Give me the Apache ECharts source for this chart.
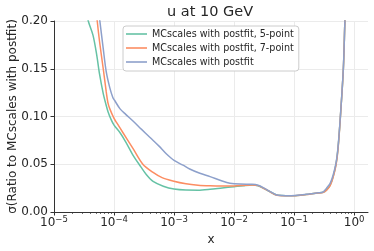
<!DOCTYPE html>
<html><head><meta charset="utf-8">
<script src="https://cdn.jsdelivr.net/npm/echarts@6/dist/echarts.min.js"></script>
<style>html,body{margin:0;padding:0;background:#fff}#c{width:374px;height:251px}</style>
</head><body><div id="c"></div>
<script>
const seriesNames = ['MCscales with postfit, 5-point', 'MCscales with postfit, 7-point', 'MCscales with postfit'];
const seriesColors = ['#66c2a5', '#fc8d62', '#8da0cb'];
const majorTicks = [1e-5, 1e-4, 1e-3, 1e-2, 1e-1, 1];
const yTicks = [0, 0.05, 0.10, 0.15, 0.20];

const xGreen = [3.31e-5, 3.72e-5, 4.47e-5, 5.13e-5, 5.75e-5, 6.61e-5, 7.24e-5, 7.94e-5, 8.91e-5, 1.0e-4, 1.26e-4, 1.58e-4, 2.09e-4, 2.82e-4, 3.47e-4, 4.47e-4, 6.61e-4, 1e-3, 1.58e-3, 2.51e-3, 3.98e-3, 6.31e-3, 1e-2, 1.41e-2, 2.0e-2];
const yGreen = [0.215, 0.200, 0.185, 0.165, 0.144, 0.124, 0.114, 0.105, 0.097, 0.091, 0.083, 0.073, 0.059, 0.047, 0.039, 0.032, 0.027, 0.0240, 0.0230, 0.0229, 0.0238, 0.0252, 0.0265, 0.0275, 0.0283];

const xOrange = [5.01e-5, 5.25e-5, 5.75e-5, 6.61e-5, 7.41e-5, 7.94e-5, 8.51e-5, 1.0e-4, 1.12e-4, 1.41e-4, 2.09e-4, 3.02e-4, 4.47e-4, 6.31e-4, 9.55e-4, 1.58e-3, 2.51e-3, 3.98e-3, 6.31e-3, 1e-2, 1.41e-2, 2.0e-2];
const yOrange = [0.215, 0.200, 0.178, 0.150, 0.126, 0.114, 0.108, 0.098, 0.093, 0.083, 0.066, 0.050, 0.0415, 0.036, 0.0325, 0.0295, 0.0280, 0.0274, 0.0272, 0.0273, 0.0278, 0.0283];

const xBlue = [5.50e-5, 5.78e-5, 6.61e-5, 7.41e-5, 8.51e-5, 9.55e-5, 1.02e-4, 1.26e-4, 1.58e-4, 2.09e-4, 2.82e-4, 3.98e-4, 5.62e-4, 7.41e-4, 1e-3, 1.41e-3, 1.82e-3, 2.69e-3, 3.98e-3, 6.31e-3, 8.51e-3, 1.26e-2, 2.0e-2];
const yBlue = [0.212, 0.201, 0.171, 0.147, 0.130, 0.120, 0.117, 0.108, 0.102, 0.095, 0.087, 0.078, 0.069, 0.061, 0.054, 0.049, 0.045, 0.0405, 0.037, 0.0325, 0.0302, 0.0292, 0.0290];

const xTail = [2.51e-2, 3.16e-2, 3.98e-2, 5.01e-2, 6.31e-2, 8.91e-2, 0.126, 0.178, 0.251, 0.302, 0.347, 0.398, 0.447, 0.501, 0.537, 0.589, 0.661, 0.700, 0.724];
const yGreenTail = [0.0275, 0.0245, 0.0212, 0.0180, 0.0172, 0.0170, 0.0176, 0.0188, 0.0200, 0.0206, 0.0232, 0.0280, 0.0370, 0.051, 0.066, 0.099, 0.150, 0.199, 0.225];
const yOrangeTail = [0.0276, 0.0246, 0.0211, 0.0178, 0.0170, 0.0169, 0.0175, 0.0187, 0.0199, 0.0204, 0.0228, 0.0275, 0.0365, 0.050, 0.065, 0.099, 0.150, 0.199, 0.225];
const yBlueTail = [0.0280, 0.0250, 0.0214, 0.0181, 0.0173, 0.0171, 0.0177, 0.0189, 0.0201, 0.0208, 0.0250, 0.0300, 0.0387, 0.052, 0.067, 0.100, 0.151, 0.199, 0.225];

function pairs(xs, ys) { return xs.map((x, i) => [x, ys[i]]); }
const dataSets = [
  pairs(xGreen.concat(xTail), yGreen.concat(yGreenTail)),
  pairs(xOrange.concat(xTail), yOrange.concat(yOrangeTail)),
  pairs(xBlue.concat(xTail), yBlue.concat(yBlueTail))
];

const minorTicks = [];
for (let k = -5; k <= 0; k++) for (let m = 2; m <= 9; m++) { const v = m * Math.pow(10, k); if (v < 1.7) minorTicks.push(v); }

const FONT = 'DejaVu Sans';
const TXT = '#262626';
const AX = '#333333';
const GRIDC = '#ebebeb';

function expLabel(v) {
  const e = Math.log10(v);
  const r = Math.round(e);
  if (Math.abs(e - r) > 0.01) return '';
  return '{b|10}{s|' + (r < 0 ? '\u2212' + (-r) : r) + '}';
}

const chart = echarts.init(document.getElementById('c'), null, {renderer: 'canvas'});
chart.setOption({
  animation: false,
  backgroundColor: '#ffffff',
  textStyle: {fontFamily: FONT},
  title: {
    text: 'u at 10 GeV', left: 167, top: 5, padding: 0,
    textStyle: {fontFamily: FONT, fontSize: 14.5, fontWeight: 'normal', color: TXT}
  },
  legend: {
    data: seriesNames, orient: 'vertical', left: 123, top: 26,
    padding: [2, 5, 3, 3], itemGap: 2, itemWidth: 21, itemHeight: 1.6, icon: 'rect',
    backgroundColor: '#ffffff', borderColor: '#cccccc', borderWidth: 1, borderRadius: 3,
    textStyle: {fontFamily: FONT, fontSize: 9.6, color: TXT, lineHeight: 12}
  },
  grid: {left: 54, right: 6, top: 21, bottom: 39, containLabel: false, outerBoundsMode: 'none'},
  xAxis: [{
    type: 'log', logBase: 10, min: 1e-5, max: 1.7,
    name: 'x', nameLocation: 'middle', nameGap: 22, nameMoveOverlap: false,
    nameTextStyle: {fontFamily: FONT, fontSize: 12, color: TXT},
    axisLine: {show: true, lineStyle: {color: AX, width: 1}},
    axisTick: {show: true, inside: false, length: 3.5, lineStyle: {color: AX}, customValues: majorTicks},
    axisLabel: {
      margin: 3, color: TXT, customValues: majorTicks,
      formatter: expLabel,
      rich: {
        b: {fontFamily: FONT, fontSize: 12, color: TXT, lineHeight: 14, verticalAlign: 'bottom'},
        s: {fontFamily: FONT, fontSize: 8.5, color: TXT, lineHeight: 10, padding: [0, 0, 5, 0], verticalAlign: 'bottom'}
      }
    },
    splitLine: {show: true, lineStyle: {color: GRIDC, width: 1}},
    minorTick: {show: false}
  }, {
    type: 'log', logBase: 10, min: 1e-5, max: 1.7, position: 'bottom',
    axisLine: {show: false},
    axisTick: {show: true, inside: false, length: 2, lineStyle: {color: AX, width: 0.7}, customValues: minorTicks},
    axisLabel: {show: false},
    splitLine: {show: false}
  }],
  yAxis: {
    type: 'value', min: 0, max: 0.2, interval: 0.05,
    name: '\u03c3(Ratio to MCscales with postfit)', nameLocation: 'middle', nameGap: 35, nameMoveOverlap: false,
    nameTextStyle: {fontFamily: FONT, fontSize: 12, color: TXT},
    axisLine: {show: true, lineStyle: {color: AX, width: 1}},
    axisTick: {show: true, inside: false, length: 3.5, lineStyle: {color: AX}},
    axisLabel: {margin: 6, color: TXT, fontFamily: FONT, fontSize: 12, formatter: v => v.toFixed(2)},
    splitLine: {show: true, lineStyle: {color: GRIDC, width: 1}}
  },
  series: seriesNames.map((n, i) => ({
    name: n, type: 'line', data: dataSets[i], xAxisIndex: 0,
    symbol: 'none', smooth: 0.3, clip: true,
    lineStyle: {color: seriesColors[i], width: 1.5},
    itemStyle: {color: seriesColors[i]}
  }))
});
</script></body></html>
